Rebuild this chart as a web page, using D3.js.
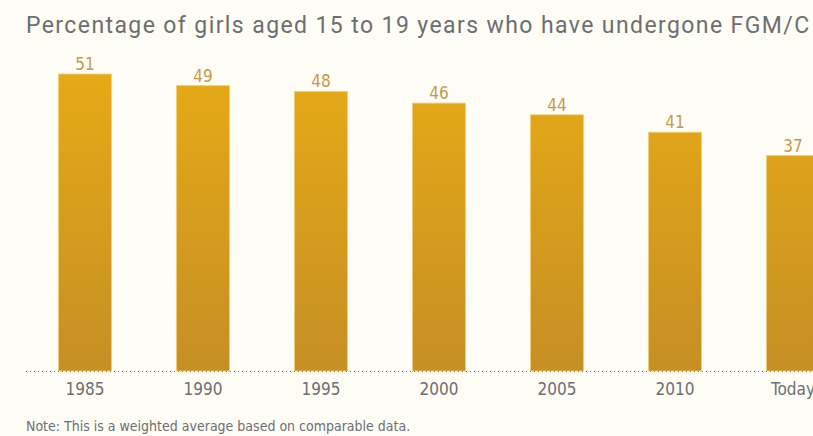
<!DOCTYPE html>
<html>
<head>
<meta charset="utf-8">
<script src="https://cdn.jsdelivr.net/npm/d3@7"></script>
<style>
  html, body { margin: 0; padding: 0; background: #fdfdf5; overflow: hidden; }
  svg { display: block; }
</style>
</head>
<body>
<svg id="chart" width="813" height="436"></svg>
<script>
// --- Data ---
const years = ["1985", "1990", "1995", "2000", "2005", "2010", "Today"];
const values = [51, 49, 48, 46, 44, 41, 37];
const titleText = "Percentage of girls aged 15 to 19 years who have undergone FGM/C";
const noteText = "Note: This is a weighted average based on comparable data.";

const width = 813, height = 436;
const baseY = 371;
const condensed = "'Liberation Sans Narrow', 'DejaVu Sans Condensed', 'Roboto', sans-serif";

const svg = d3.select("#chart");

// --- Gradient for bars ---
const defs = svg.append("defs");
const grad = defs.append("linearGradient")
    .attr("id", "barGrad")
    .attr("gradientUnits", "userSpaceOnUse")
    .attr("x1", 0).attr("y1", 72).attr("x2", 0).attr("y2", baseY);
grad.append("stop").attr("offset", "0%").attr("stop-color", "#e6aa16");
grad.append("stop").attr("offset", "100%").attr("stop-color", "#c68f24");

// --- Scales ---
const x = d3.scaleBand()
    .domain(years)
    .range([26, 26 + 118 * years.length])
    .paddingInner(0.55)
    .paddingOuter(0.275);

const y = d3.scaleLinear()
    .domain([0, 51])
    .range([baseY, 74]);

// --- Title ---
svg.append("text")
    .attr("x", 26)
    .attr("y", 33)
    .attr("fill", "#6d6e71")
    .style("font-family", "'Roboto', sans-serif")
    .style("font-size", "23px")
    .style("letter-spacing", "1.4px")
    .text(titleText);

// --- Bars ---
svg.selectAll("rect.bar")
    .data(values)
    .enter()
    .append("rect")
    .attr("class", "bar")
    .attr("x", (d, i) => x(years[i]))
    .attr("y", d => y(d))
    .attr("width", x.bandwidth())
    .attr("height", d => baseY - y(d))
    .attr("fill", "url(#barGrad)")
    .attr("stroke", "#f0cf7a")
    .attr("stroke-width", 0.8);

// --- Value labels ---
svg.selectAll("text.val")
    .data(values)
    .enter()
    .append("text")
    .attr("class", "val")
    .attr("x", (d, i) => x(years[i]) + x.bandwidth() / 2)
    .attr("y", d => y(d) - 4)
    .attr("text-anchor", "middle")
    .attr("fill", "#c49a4a")
    .style("font-family", condensed)
    .style("font-size", "17px")
    .text(d => d);

// --- Dotted baseline ---
svg.append("line")
    .attr("x1", 26).attr("x2", width)
    .attr("y1", baseY + 0.5).attr("y2", baseY + 0.5)
    .attr("stroke", "#77787b")
    .attr("stroke-width", 1)
    .attr("stroke-dasharray", "1,3");

// --- X axis labels ---
const xAxis = d3.axisBottom(x).tickSize(0).tickPadding(12);
const ax = svg.append("g")
    .attr("transform", `translate(0,${baseY})`)
    .call(xAxis);
ax.select(".domain").remove();
ax.selectAll("text")
    .attr("fill", "#6d6e71")
    .style("font-family", condensed)
    .style("font-size", "17px");

// --- Note ---
svg.append("text")
    .attr("x", 26)
    .attr("y", 431)
    .attr("fill", "#6d6e71")
    .style("font-family", condensed)
    .style("font-size", "14px")
    .text(noteText);
</script>
</body>
</html>
